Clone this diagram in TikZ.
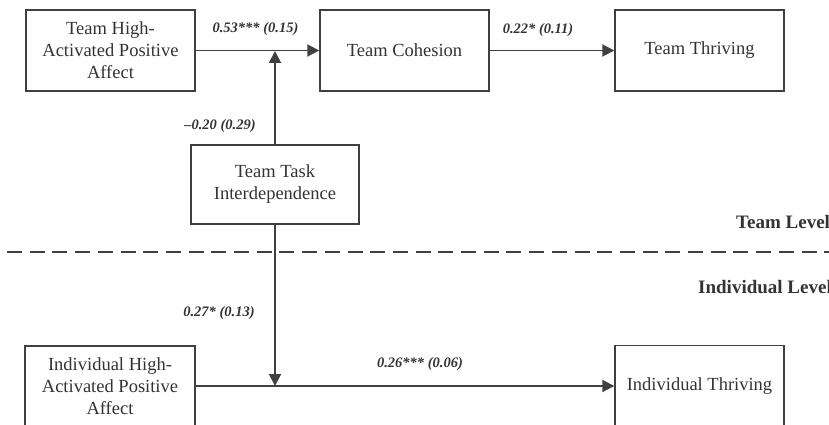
\documentclass[tikz,border=0pt]{standalone}
\usepackage{fontspec}
\setmainfont{Liberation Serif}
\usetikzlibrary{arrows.meta}
\definecolor{ink}{HTML}{404040}
\definecolor{txt}{HTML}{333333}
\tikzset{
  box/.style={draw=ink, line width=1.4pt, rectangle, inner sep=0pt, align=center,
    text=txt, font=\fontsize{18.5}{22}\selectfont},
  arr/.style={draw=ink, line width=1.9pt, -{Triangle[length=12pt,width=12pt]}},
  ln/.style={draw=ink, line width=1.9pt},
  coef/.style={text=txt, font=\fontsize{14.5}{17}\selectfont\bfseries\itshape, inner sep=0pt},
  lvl/.style={text=txt, font=\fontsize{19}{22}\selectfont\bfseries, inner sep=0pt, anchor=west},
  dash line/.style={draw=ink, line width=1.6pt, dash pattern=on 15pt off 7.7pt}
}
\begin{document}
\begin{tikzpicture}[x=1pt,y=-1pt]
\useasboundingbox (0,0) rectangle (829,425);
% nodes
\node[box, minimum width=169pt, minimum height=81pt] (thapa) at (110.5,50.5) {Team High-\\Activated Positive\\Affect};
\node[box, minimum width=169pt, minimum height=81pt] (coh) at (404.5,50.5) {Team Cohesion};
\node[box, minimum width=169pt, minimum height=81pt] (thr) at (699.5,50.5) {Team Thriving};
\node[box, minimum width=168pt, minimum height=79pt] (tti) at (275,184.5) {Team Task\\Interdependence};
\node[box, minimum width=170pt, minimum height=80pt] (iapa) at (110,386) {Individual High-\\Activated Positive\\Affect};
\node[box, minimum width=169pt, minimum height=81pt] (ithr) at (699.5,386) {Individual Thriving};
% coordinates
\coordinate (m1) at (275,51);
\coordinate (m2) at (275,386);
\coordinate (dl) at (7,252);
\coordinate (dr) at (829,252);
% connectors
\draw[arr] (thapa.east) -- (coh.west);
\draw[arr] (coh.east) -- (thr.west);
\draw[arr] (tti.north) -- (m1);
\draw[arr] (tti.south) -- (m2);
\draw[ln] (iapa.east) -- (m2);
\draw[arr] (m2) -- (ithr.west);
\draw[dash line] (dl) -- (dr);
% labels
\node[coef] (l1) at (255.5,29) {0.53*** (0.15)};
\node[coef] (l2) at (538,30) {0.22* (0.11)};
\node[coef] (l3) at (220,126) {–0.20 (0.29)};
\node[coef] (l4) at (219,313) {0.27* (0.13)};
\node[coef] (l5) at (420,364) {0.26*** (0.06)};
\node[lvl] (tl) at (736,222) {Team Level};
\node[lvl] (il) at (698,287) {Individual Level};
\end{tikzpicture}
\end{document}
